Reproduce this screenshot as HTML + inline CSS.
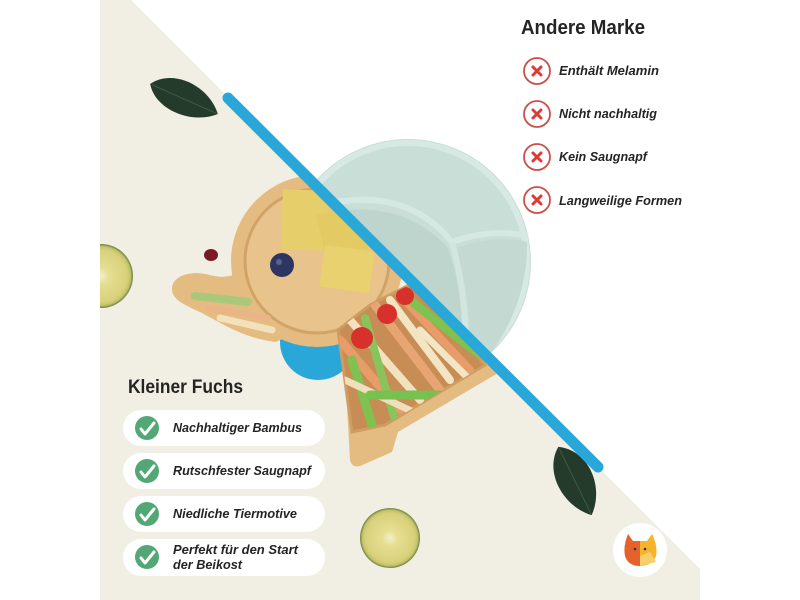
<!DOCTYPE html>
<html><head><meta charset="utf-8"><style>
html,body{margin:0;padding:0;background:#fff;}
svg{display:block;}
text{font-family:"Liberation Sans",sans-serif;fill:#242424;}
</style></head><body>
<svg width="800" height="600" viewBox="0 0 800 600" xmlns="http://www.w3.org/2000/svg">
<defs>
<clipPath id="beige"><polygon points="0,0 131,0 731,600 0,600"/></clipPath>
<clipPath id="white"><polygon points="131,0 800,0 800,669 731,600"/></clipPath>
<clipPath id="content"><rect x="100" y="0" width="600" height="600"/></clipPath>
<clipPath id="comp"><polygon points="338,330 352,432 385,425 485,365 415,282 370,305"/></clipPath>
<radialGradient id="lem" cx="0.5" cy="0.5" r="0.5">
<stop offset="0" stop-color="#f4f0cc"/><stop offset="0.25" stop-color="#e6df92"/><stop offset="0.82" stop-color="#d8d07a"/><stop offset="0.92" stop-color="#c2c46c"/><stop offset="1" stop-color="#6f7f3e"/>
</radialGradient>
</defs>

<!-- beige background -->
<polygon points="100,0 131,0 700,569 700,600 100,600" fill="#f1eee3"/>

<g clip-path="url(#content)">
<circle cx="101" cy="276" r="32" fill="url(#lem)"/>
</g>
<circle cx="390" cy="538" r="30" fill="url(#lem)"/>
<ellipse cx="211" cy="255" rx="7" ry="6" fill="#7a1a26"/>

<!-- leaves -->
<g transform="translate(184,99) rotate(24)">
<path d="M-37,0 C-22,-24 18,-22 37,0 C18,20 -22,22 -37,0 Z" fill="#243a2b"/>
<path d="M-35,0 L36,0" stroke="#3d5a42" stroke-width="1"/>
</g>
<g transform="translate(575,481) rotate(64)">
<path d="M-38,0 C-22,-26 18,-24 38,0 C18,22 -22,24 -38,0 Z" fill="#243a2b"/>
<path d="M-36,0 L37,0" stroke="#3d5a42" stroke-width="1"/>
</g>

<!-- mint plate (white side) -->
<g clip-path="url(#white)">
<circle cx="408" cy="262" r="123" fill="#c8ded7"/>
<circle cx="408" cy="262" r="119" fill="none" stroke="#d7e9e3" stroke-width="6"/>
<path d="M318,215 Q400,195 448,248 Q466,300 462,362 L318,362 Z" fill="#bdd5cd"/>
<path d="M456,248 Q495,234 527,242 Q528,300 492,352 L470,358 Q472,300 456,248 Z" fill="#c3d9d2"/>
<path d="M322,205 Q405,185 452,242" fill="none" stroke="#d6e8e2" stroke-width="6"/>
<path d="M452,242 Q490,228 528,236" fill="none" stroke="#d6e8e2" stroke-width="6"/>
<path d="M452,242 Q468,300 465,362" fill="none" stroke="#d2e5df" stroke-width="6"/>
</g>

<!-- bamboo plate (beige side) -->
<g clip-path="url(#beige)">
<circle cx="318" cy="342" r="38" fill="#2aa7d9"/>
<path d="M240,272 C225,280 215,276 205,274 C190,271 172,276 172,289 C172,300 185,305 200,312 C220,322 242,338 276,342 L300,330 Z" fill="#e4bb80"/>
<path d="M290,318 L343,333 L350,460 Q352,468 360,466 L392,452 L398,432 L520,360 L520,290 Z" fill="#e4bb80"/>
<circle cx="317" cy="261" r="86" fill="#e4bb80"/>
<circle cx="317" cy="261" r="72" fill="#e8c48c" stroke="#d2a367" stroke-width="3"/>
<polygon points="338,330 352,432 385,425 485,365 415,282 370,305" fill="#c78d55" stroke="#cf9c62" stroke-width="3"/>
<g clip-path="url(#comp)" stroke-linecap="round">
<line x1="340" y1="340" x2="400" y2="410" stroke="#e79c6a" stroke-width="9"/>
<line x1="350" y1="320" x2="420" y2="400" stroke="#f2e2bf" stroke-width="8"/>
<line x1="365" y1="318" x2="395" y2="420" stroke="#88c45b" stroke-width="8"/>
<line x1="375" y1="305" x2="440" y2="390" stroke="#e8a473" stroke-width="9"/>
<line x1="390" y1="300" x2="450" y2="380" stroke="#f3e5c4" stroke-width="8"/>
<line x1="400" y1="295" x2="470" y2="370" stroke="#e79c6a" stroke-width="8"/>
<line x1="410" y1="300" x2="480" y2="355" stroke="#7fc24f" stroke-width="9"/>
<line x1="352" y1="360" x2="372" y2="425" stroke="#7fc24f" stroke-width="9"/>
<line x1="345" y1="380" x2="420" y2="415" stroke="#f0dfbc" stroke-width="7"/>
<line x1="370" y1="395" x2="440" y2="395" stroke="#78c050" stroke-width="9"/>
<line x1="420" y1="330" x2="470" y2="380" stroke="#f3e6c6" stroke-width="7"/>
<circle cx="362" cy="338" r="11" fill="#d8312b"/>
<circle cx="387" cy="314" r="10" fill="#d8312b"/>
<circle cx="405" cy="296" r="9" fill="#d8312b"/>
</g>
<rect x="282" y="190" width="46" height="60" fill="#e6cf6a" transform="rotate(2 305 220)"/>
<rect x="322" y="210" width="44" height="58" fill="#e3ca62" transform="rotate(-12 344 239)"/>
<rect x="322" y="248" width="50" height="42" fill="#e8d16e" transform="rotate(8 347 269)"/>
<circle cx="282" cy="265" r="12" fill="#2d3560"/>
<circle cx="279" cy="262" r="3" fill="#5a6290"/>
<line x1="195" y1="296" x2="248" y2="302" stroke="#a9c87a" stroke-width="8" stroke-linecap="round"/>
<line x1="208" y1="308" x2="268" y2="318" stroke="#eab487" stroke-width="6" stroke-linecap="round"/>
<line x1="220" y1="318" x2="272" y2="330" stroke="#f2e1bd" stroke-width="7" stroke-linecap="round"/>
</g>

<!-- blue divider line -->
<line x1="228" y1="98" x2="598" y2="467" stroke="#2aa7d9" stroke-width="11" stroke-linecap="round"/>

<!-- fox logo -->
<circle cx="640" cy="550" r="27" fill="#ffffff"/>
<path d="M628,534 L633,541 L640,541 L640,566 Q628,566 625,556 Q623,546 628,534 Z" fill="#e5622a"/>
<path d="M652,534 L647,541 L640,541 L640,566 Q652,566 656,556 Q658,546 652,534 Z" fill="#f4b52d"/>
<path d="M640,556 L650,552 L656,562 L640,566 Z" fill="#f7cf6a"/>
<circle cx="635" cy="549" r="1.3" fill="#333"/><circle cx="645" cy="549" r="1.3" fill="#333"/>

<!-- right heading + items -->
<text x="521" y="34" font-size="20" font-weight="bold" textLength="124" lengthAdjust="spacingAndGlyphs">Andere Marke</text>
<g fill="none" stroke="#c9504d" stroke-width="1.8">
<circle cx="537" cy="71" r="13"/><circle cx="537" cy="114" r="13"/><circle cx="537" cy="157" r="13"/><circle cx="537" cy="200" r="13"/>
</g>
<g stroke="#dc3b37" stroke-width="3" stroke-linecap="round">
<path d="M533,67 L541,75 M541,67 L533,75"/>
<path d="M533,110 L541,118 M541,110 L533,118"/>
<path d="M533,153 L541,161 M541,153 L533,161"/>
<path d="M533,196 L541,204 M541,196 L533,204"/>
</g>
<g font-size="13" font-weight="bold" font-style="italic">
<text x="559" y="75" textLength="100" lengthAdjust="spacingAndGlyphs">Enthält Melamin</text>
<text x="559" y="118" textLength="98" lengthAdjust="spacingAndGlyphs">Nicht nachhaltig</text>
<text x="559" y="161" textLength="88" lengthAdjust="spacingAndGlyphs">Kein Saugnapf</text>
<text x="559" y="205" textLength="123" lengthAdjust="spacingAndGlyphs">Langweilige Formen</text>
</g>

<!-- left heading + pills -->
<text x="128" y="393" font-size="19" font-weight="bold" textLength="115" lengthAdjust="spacingAndGlyphs">Kleiner Fuchs</text>
<g fill="#ffffff">
<rect x="123" y="410" width="202" height="36" rx="18"/>
<rect x="123" y="453" width="202" height="36" rx="18"/>
<rect x="123" y="496" width="202" height="36" rx="18"/>
<rect x="123" y="539" width="202" height="37" rx="18"/>
</g>
<g fill="#52a874">
<circle cx="147" cy="428" r="12"/><circle cx="147" cy="471" r="12"/><circle cx="147" cy="514" r="12"/><circle cx="147" cy="557" r="12"/>
</g>
<g fill="none" stroke="#ffffff" stroke-width="3" stroke-linecap="round" stroke-linejoin="round">
<path d="M141,429 L145,434 L154,423"/>
<path d="M141,472 L145,477 L154,466"/>
<path d="M141,515 L145,520 L154,509"/>
<path d="M141,558 L145,563 L154,552"/>
</g>
<g font-size="13" font-weight="bold" font-style="italic">
<text x="173" y="432" textLength="129" lengthAdjust="spacingAndGlyphs">Nachhaltiger Bambus</text>
<text x="173" y="475" textLength="138" lengthAdjust="spacingAndGlyphs">Rutschfester Saugnapf</text>
<text x="173" y="518" textLength="124" lengthAdjust="spacingAndGlyphs">Niedliche Tiermotive</text>
<text x="173" y="554" textLength="125" lengthAdjust="spacingAndGlyphs">Perfekt für den Start</text>
<text x="173" y="569" textLength="69" lengthAdjust="spacingAndGlyphs">der Beikost</text>
</g>
</svg>
</body></html>
